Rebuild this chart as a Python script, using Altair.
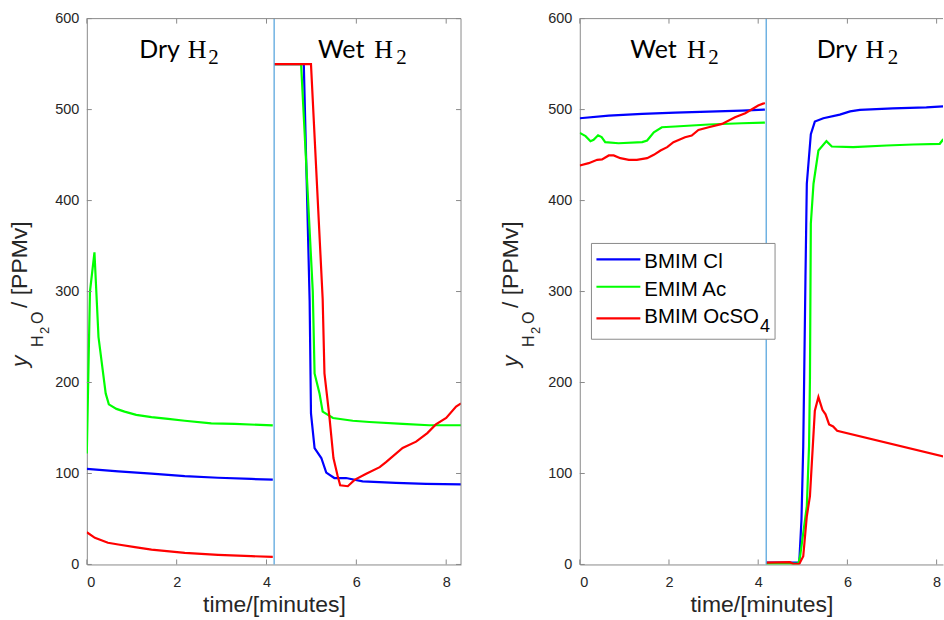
import altair as alt
import pandas as pd

# ---------------- data ----------------
SERIES = ["BMIM Cl", "EMIM Ac", "BMIM OcSO4"]
COLORS = ["#0000ff", "#00ff00", "#ff0000"]

X_TICKS = [0, 2, 4, 6, 8]
Y_TICKS = [0, 100, 200, 300, 400, 500, 600]

# Left panel: Dry H2 -> Wet H2
A_SWITCH = [4.17]
A_BLUE_DRY_T = [0, 0.7, 1.44, 2.18, 2.92, 3.66, 4.14]
A_BLUE_DRY_Y = [105, 102.3, 99.8, 97, 95.3, 94, 93.2]
A_GREEN_DRY_T = [0, 0.07, 0.17, 0.26, 0.42, 0.49, 0.66, 0.84, 1.1, 1.44, 1.81, 2.18, 2.77, 3.29, 4.14]
A_GREEN_DRY_Y = [122, 300, 343, 250, 188, 176, 171, 168, 164.5, 162, 160, 158, 155, 154.6, 152.8]
A_RED_DRY_T = [0, 0.18, 0.47, 0.7, 1.07, 1.44, 2.18, 2.92, 3.66, 4.14]
A_RED_DRY_Y = [35.4, 29.2, 23.8, 21.9, 19, 16.4, 12.8, 10.6, 9.1, 8.4]

A_BLUE_WET_T = [4.17, 4.83, 4.96, 4.99, 5.07, 5.22, 5.33, 5.51, 5.77, 6.14, 6.88, 7.55, 8.33]
A_BLUE_WET_Y = [550, 550, 290, 166, 128, 117, 101, 95, 95, 91.4, 89.6, 88.5, 88]
A_GREEN_WET_T = [4.17, 4.77, 5.03, 5.07, 5.18, 5.25, 5.48, 5.92, 6.29, 7.03, 7.62, 8.33]
A_GREEN_WET_Y = [550, 550, 300, 210, 188, 168, 161, 158, 156.6, 154.6, 153, 153]
A_RED_WET_T = [4.17, 4.99, 5.25, 5.29, 5.40, 5.49, 5.58, 5.64, 5.81, 5.96, 6.22, 6.52, 6.66,
               7.03, 7.33, 7.58, 7.77, 8.0, 8.22, 8.33]
A_RED_WET_Y = [550, 550, 292, 210, 162.6, 117, 98, 87, 86, 93, 99.8, 107, 112.5,
               128, 135, 144.4, 154, 161, 173.6, 177]

# Right panel: Wet H2 -> Dry H2
B_SWITCH = [4.18]
B_BLUE_WET_T = [0, 0.65, 1.40, 2.14, 2.89, 3.63, 4.15]
B_BLUE_WET_Y = [490.5, 493.4, 495.3, 496.7, 497.8, 498.9, 500]
B_GREEN_WET_T = [0, 0.13, 0.24, 0.31, 0.41, 0.49, 0.57, 0.87, 1.40, 1.51, 1.66, 1.84, 2.14, 2.89, 3.63, 4.15]
B_GREEN_WET_Y = [474.4, 470.8, 465.3, 466.8, 471.8, 469.7, 464.2, 463, 464.2, 466, 475, 480.6,
                 481.4, 483.6, 485, 485.7]
B_RED_WET_T = [0, 0.2, 0.39, 0.5, 0.65, 0.76, 0.91, 1.10, 1.28, 1.51, 1.66, 1.81, 1.96, 2.10,
               2.36, 2.51, 2.66, 2.89, 3.19, 3.48, 3.71, 4.0, 4.15]
B_RED_WET_Y = [438.6, 441.1, 444.8, 445.2, 449.6, 449.6, 446.6, 444.8, 444.8, 446.6, 450.3, 455,
               458.7, 464.2, 469.6, 471.5, 477.7, 480.6, 484.3, 491.6, 496, 504.4, 507.3]

B_BLUE_DRY_T = [4.18, 4.92, 4.97, 5.01, 5.03, 5.06, 5.09, 5.18, 5.27, 5.46, 5.83, 6.06, 6.28, 7.02, 7.77, 8.33]
B_BLUE_DRY_Y = [2, 2, 49, 130, 203, 316, 418.5, 473, 486.8, 490.5, 494.5, 498, 499.7, 501.4, 502.5, 504]
B_GREEN_DRY_T = [4.18, 4.90, 4.94, 5.09, 5.14, 5.16, 5.18, 5.24, 5.35, 5.53, 5.65, 6.13, 6.88,
                 7.47, 8.07, 8.14, 8.33]
B_GREEN_DRY_Y = [1, 1, 9, 64, 130, 203, 374.6, 418.5, 455, 465.3, 459.4, 458.7, 460.5,
                 461.6, 462.4, 466.8, 470]
B_RED_DRY_T = [4.18, 4.71, 4.79, 4.92, 5.01, 5.09, 5.16, 5.27, 5.35, 5.44, 5.51, 5.59, 5.68, 5.77, 8.33]
B_RED_DRY_Y = [2, 2.5, 0.5, 0.5, 9, 53, 75, 169, 184, 170, 165, 154, 151.7, 147, 116.6]

LEGEND_LABELS = ["BMIM Cl", "EMIM Ac", "BMIM OcSO"]
LEGEND_SUB = "4"

# ---------------- style / layout ----------------
FRAME = "#8a8a8a"
TEXT = "#262626"
RULE = "#5aa7de"
H = 547
W_LEFT, X_LEFT = 375, 8.33
W_RIGHT = 364
X_RIGHT = W_RIGHT / 44.7
SANS = "Liberation Sans"
ONE = pd.DataFrame({"k": [0]})


def long_frame(segments):
    rows = []
    for seg_id, (ts, ys) in enumerate(segments):
        for i, (t, y) in enumerate(zip(ts, ys)):
            rows.append({"t": t, "y": y, "seg": seg_id, "i": i})
    return pd.DataFrame(rows)


def text_layer(text, x, y, font=SANS, size=20, style="normal", angle=0, color="black"):
    kw = dict(text=text, font=font, fontSize=size, fontStyle=style, align="left",
              baseline="alphabetic", color=color)
    if angle:
        kw["angle"] = angle
    return alt.Chart(ONE).mark_text(**kw).encode(x=alt.value(x), y=alt.value(y))


def panel(series_segments, switch, xmax, width, headers, title_dx, right_border, legend):
    xs = alt.Scale(domain=[0, xmax], nice=False, zero=False)
    ys = alt.Scale(domain=[0, 600], nice=False, zero=False)
    x_enc = alt.X("t:Q", scale=xs,
                  axis=alt.Axis(values=X_TICKS, format="d", title="time/[minutes]"))
    y_enc = alt.Y("y:Q", scale=ys, axis=alt.Axis(values=Y_TICKS, format="d", title=None))
    layers = []
    for color, segs in zip(COLORS, series_segments):
        layers.append(
            alt.Chart(long_frame(segs)).mark_line(color=color, strokeWidth=2.2, clip=True)
            .encode(x=x_enc, y=y_enc, detail="seg:N", order="i:Q")
        )
    layers.append(alt.Chart(pd.DataFrame({"t": switch})).mark_rule(color=RULE, strokeWidth=1.3)
                  .encode(x=x_enc))
    xt = pd.DataFrame({"t": [v for v in X_TICKS if v <= xmax]})
    yt = pd.DataFrame({"y": Y_TICKS})
    layers.append(alt.Chart(xt).mark_rule(color=FRAME).encode(x=x_enc, y=alt.value(H), y2=alt.value(H - 5)))
    layers.append(alt.Chart(xt).mark_rule(color=FRAME).encode(x=x_enc, y=alt.value(0), y2=alt.value(5)))
    layers.append(alt.Chart(yt).mark_rule(color=FRAME).encode(y=y_enc, x=alt.value(0), x2=alt.value(5)))
    layers.append(alt.Chart(ONE).mark_rule(color=FRAME).encode(x=alt.value(0), x2=alt.value(width), y=alt.value(0)))
    if right_border:
        layers.append(alt.Chart(yt).mark_rule(color=FRAME).encode(y=y_enc, x=alt.value(width), x2=alt.value(width - 5)))
        layers.append(alt.Chart(ONE).mark_rule(color=FRAME).encode(x=alt.value(width), y=alt.value(0), y2=alt.value(H)))
    # region headers: word, H, subscript 2
    for word, xw, xh, x2 in headers:
        layers.append(text_layer(word, xw, 39, font="Lato", size=25))
        layers.append(text_layer("H", xh, 39, font="Liberation Serif", size=26))
        layers.append(text_layer("2", x2, 45.3, font="Liberation Serif", size=21))
    # y-axis title: y_{H2O} / [PPMv]
    layers.append(text_layer("y", -59.7 + title_dx, 349, size=23, style="italic", angle=270, color=TEXT))
    layers.append(text_layer("H", -43.7 + title_dx, 329, size=16, angle=270, color=TEXT))
    layers.append(text_layer("2", -37.7 + title_dx, 316, size=13, angle=270, color=TEXT))
    layers.append(text_layer("O", -43.7 + title_dx, 306, size=16, angle=270, color=TEXT))
    layers.append(text_layer("/ [PPMv]", -59.7 + title_dx, 290, size=23, angle=270, color=TEXT))
    if legend:
        layers.append(alt.Chart(ONE).mark_rect(fill="white", stroke=FRAME, strokeWidth=1)
                      .encode(x=alt.value(11.7), x2=alt.value(195.7), y=alt.value(225.3), y2=alt.value(321.3)))
        line_y = [241.3, 268.7, 300.3]
        text_y = [250.3, 278, 305.3]
        for label, color, ly, ty in zip(LEGEND_LABELS, COLORS, line_y, text_y):
            layers.append(alt.Chart(ONE).mark_rule(color=color, strokeWidth=2.2)
                          .encode(x=alt.value(16.7), x2=alt.value(60.7), y=alt.value(ly)))
            layers.append(text_layer(label, 64.7, ty, size=20.5))
        layers.append(text_layer(LEGEND_SUB, 180.7, 313.7, size=18))
    return alt.layer(*layers).properties(width=width, height=H)


left = panel(
    [[(A_BLUE_DRY_T, A_BLUE_DRY_Y), (A_BLUE_WET_T, A_BLUE_WET_Y)],
     [(A_GREEN_DRY_T, A_GREEN_DRY_Y), (A_GREEN_WET_T, A_GREEN_WET_Y)],
     [(A_RED_DRY_T, A_RED_DRY_Y), (A_RED_WET_T, A_RED_WET_Y)]],
    A_SWITCH, X_LEFT, W_LEFT,
    headers=[("Dry", 52.6, 101.2, 121.6), ("Wet", 231.6, 288.0, 310.0)],
    title_dx=0, right_border=True, legend=False,
)
right = panel(
    [[(B_BLUE_WET_T, B_BLUE_WET_Y), (B_BLUE_DRY_T, B_BLUE_DRY_Y)],
     [(B_GREEN_WET_T, B_GREEN_WET_Y), (B_GREEN_DRY_T, B_GREEN_DRY_Y)],
     [(B_RED_WET_T, B_RED_WET_Y), (B_RED_DRY_T, B_RED_DRY_Y)]],
    B_SWITCH, X_RIGHT, W_RIGHT,
    headers=[("Wet", 50.7, 107.4, 128.7), ("Dry", 237.4, 286.4, 308.7)],
    title_dx=-2.6, right_border=False, legend=True,
)

chart = (
    alt.hconcat(left, right, spacing=37)
    .resolve_scale(x="independent", y="independent")
    .properties(padding={"left": 9, "top": 10, "right": 0, "bottom": 0}, background="white")
    .configure_view(strokeOpacity=0)
    .configure_axis(labelFont=SANS, labelFontSize=14.5, labelColor=TEXT,
                    titleFont=SANS, titleFontSize=23, titleFontWeight="normal", titleColor=TEXT,
                    domainColor=FRAME, domainWidth=1, ticks=False, tickSize=0, grid=False)
    .configure_axisX(labelPadding=11, titlePadding=5)
    .configure_axisY(labelPadding=8)
)

chart.save("out.html", embed_options={"renderer": "svg", "actions": False})
